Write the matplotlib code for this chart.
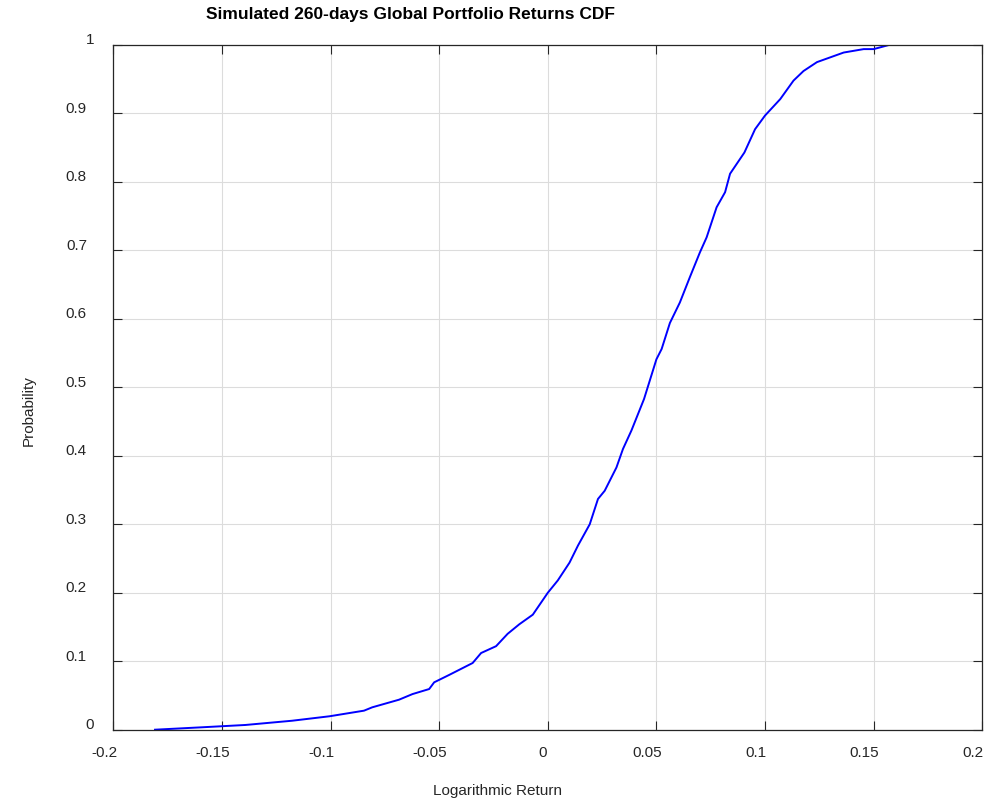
import numpy as np
import matplotlib
matplotlib.use('Agg')
import matplotlib.pyplot as plt
import matplotlib.transforms as mtransforms

plt.rcParams['font.family'] = ['Liberation Sans', 'DejaVu Sans']

# CDF of simulated returns
ret = [-0.1808, -0.1593, -0.1392, -0.1177, -0.1005, -0.0846, -0.0808, -0.0716,
       -0.0685, -0.0623, -0.0546, -0.0523, -0.0454, -0.0346, -0.0307, -0.0238,
       -0.0185, -0.0131, -0.0069, 0.0, 0.0046, 0.0100, 0.0139, 0.0193, 0.0231,
       0.0262, 0.0316, 0.0346, 0.0385, 0.0443, 0.0500, 0.0524, 0.0562, 0.0608,
       0.0654, 0.0700, 0.0731, 0.0777, 0.0816, 0.0839, 0.0905, 0.0954, 0.1000,
       0.1070, 0.1131, 0.1177, 0.1239, 0.1362, 0.1454, 0.1500, 0.1570]
prob = [0.0, 0.0035, 0.0069, 0.0131, 0.0196, 0.0278, 0.0327, 0.0410,
        0.0438, 0.0520, 0.0594, 0.0692, 0.080, 0.0974, 0.112, 0.122,
        0.140, 0.154, 0.168, 0.200, 0.218, 0.244, 0.269, 0.300, 0.337,
        0.349, 0.383, 0.410, 0.437, 0.483, 0.541, 0.556, 0.594, 0.624,
        0.661, 0.697, 0.719, 0.763, 0.785, 0.812, 0.843, 0.877, 0.897,
        0.921, 0.948, 0.962, 0.975, 0.989, 0.994, 0.994, 1.0]

xticks = [-0.2, -0.15, -0.1, -0.05, 0, 0.05, 0.1, 0.15, 0.2]
xticklabels = ['-0.2', '-0.15', '-0.1', '-0.05', '0', '0.05', '0.1', '0.15', '0.2']
yticks = [0, 0.1, 0.2, 0.3, 0.4, 0.5, 0.6, 0.7, 0.8, 0.9, 1]
yticklabels = ['0', '0.1', '0.2', '0.3', '0.4', '0.5', '0.6', '0.7', '0.8', '0.9', '1']

dark = '#262626'

fig = plt.figure(figsize=(10.04, 8.04), dpi=100)
ax = fig.add_axes([113.3 / 1004, 73.3 / 804, 869 / 1004, 684.7 / 804])

ax.plot(ret, prob, color='#0000ff', linewidth=1.4)

ax.set_xlim(-0.2, 0.2)
ax.set_ylim(0, 1)
ax.set_xticks(xticks)
ax.set_xticklabels(xticklabels)
ax.set_yticks(yticks)
ax.set_yticklabels(yticklabels)

ax.grid(True, color='#dcdcdc', linewidth=0.8)
ax.set_axisbelow(True)
for s in ax.spines.values():
    s.set_color(dark)
    s.set_linewidth(0.9)

ax.tick_params(axis='both', direction='in', length=6.5, width=0.8, color=dark,
               labelcolor=dark, labelsize=11, top=True, right=True)
ax.tick_params(axis='x', pad=11)
ax.tick_params(axis='y', pad=19)

# nudge tick labels the way the original renderer placed them
for lab in ax.get_xticklabels():
    dx = -5 if lab.get_text() == '0' else -9
    lab.set_transform(lab.get_transform() +
                      mtransforms.ScaledTranslation(dx / 100, 0, fig.dpi_scale_trans))
for lab in ax.get_yticklabels():
    dx = 7 if len(lab.get_text()) == 1 else 0
    lab.set_transform(lab.get_transform() +
                      mtransforms.ScaledTranslation(dx / 100, 7 / 100, fig.dpi_scale_trans))

fig.text(410 / 1004, 1 - 15 / 804, 'Simulated 260-days Global Portfolio Returns CDF',
         ha='center', va='center', fontsize=12.5, fontweight='bold', color='black')
fig.text(497.5 / 1004, 1 - 791 / 804, 'Logarithmic Return',
         ha='center', va='center', fontsize=11, color=dark)
fig.text(28.3 / 1004, 1 - 411 / 804, 'Probability',
         ha='center', va='center', rotation=90, fontsize=11, color=dark)

fig.savefig('out.png', dpi=100)
